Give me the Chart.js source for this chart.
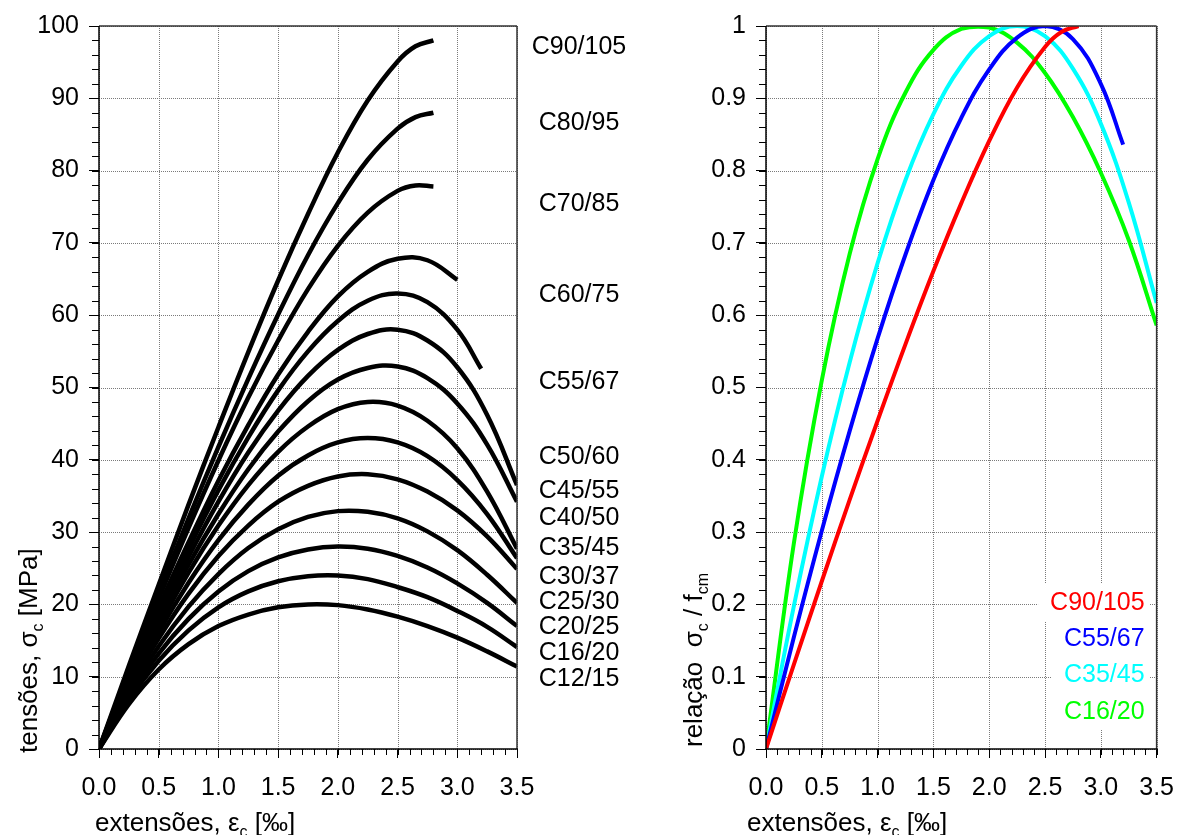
<!DOCTYPE html>
<html>
<head>
<meta charset="utf-8">
<script src="https://cdn.jsdelivr.net/npm/chart.js"></script>
<style>
  html, body { margin: 0; padding: 0; background: #fff; }
  canvas { position: absolute; top: 0; }
  #left { left: 0; }
  #right { left: 640px; }
</style>
</head>
<body>
<canvas id="left" width="640" height="835"></canvas>
<canvas id="right" width="549" height="835"></canvas>
<script>
// strains [per mille]
const strainFull = [0, 0.25, 0.5, 0.75, 1.0, 1.25, 1.5, 1.75, 2.0, 2.25, 2.5, 2.75, 3.0, 3.25, 3.5];
const strainTo32 = [0, 0.25, 0.5, 0.75, 1.0, 1.25, 1.5, 1.75, 2.0, 2.25, 2.5, 2.75, 3.0, 3.2];
const strainTo30 = [0, 0.25, 0.5, 0.75, 1.0, 1.25, 1.5, 1.75, 2.0, 2.25, 2.5, 2.75, 3.0];
const strainTo28 = [0, 0.25, 0.5, 0.75, 1.0, 1.25, 1.5, 1.75, 2.0, 2.25, 2.5, 2.65, 2.8];

// left panel: stresses [MPa]
const classNames = ["C12/15", "C16/20", "C20/25", "C25/30", "C30/37", "C35/45", "C40/50",
  "C45/55", "C50/60", "C55/67", "C60/75", "C70/85", "C80/95", "C90/105"];
const sC12 = [0, 6.2, 11.0, 14.5, 17.0, 18.6, 19.6, 20.0, 19.9, 19.3, 18.3, 17.0, 15.4, 13.5, 11.4];
const sC16 = [0, 6.8, 12.2, 16.4, 19.6, 21.8, 23.2, 23.9, 24.0, 23.5, 22.4, 21.0, 19.1, 16.9, 14.1];
const sC20 = [0, 7.2, 13.2, 18.0, 21.8, 24.6, 26.5, 27.6, 28.0, 27.7, 26.7, 25.1, 22.9, 20.2, 17.0];
const sC25 = [0, 7.6, 14.2, 19.7, 24.2, 27.8, 30.4, 32.1, 32.9, 32.8, 31.9, 30.1, 27.5, 24.1, 20.2];
const sC30 = [0, 8.2, 15.3, 21.5, 26.7, 30.9, 34.2, 36.4, 37.7, 38.0, 37.3, 35.6, 33.0, 29.4, 24.9];
const sC35 = [0, 8.5, 16.2, 23.0, 28.9, 33.8, 37.8, 40.6, 42.4, 43.0, 42.4, 40.5, 37.2, 32.5, 26.4];
const sC40 = [0, 8.9, 17.0, 24.4, 30.9, 36.5, 41.1, 44.6, 47.0, 48.0, 47.5, 45.4, 41.6, 35.6, 27.7];
const sC45 = [0, 9.2, 17.7, 25.5, 32.5, 38.7, 43.9, 48.1, 51.1, 52.7, 52.9, 51.3, 47.8, 42.1, 34.2];
const sC50 = [0, 9.5, 18.4, 26.6, 34.2, 41.0, 46.8, 51.6, 55.2, 57.4, 58.0, 56.5, 52.8, 46.2, 36.5];
const sC55 = [0, 9.8, 19.0, 27.7, 35.8, 43.1, 49.6, 55.0, 59.2, 62.0, 63.0, 61.8, 58.0, 52.6];
const sC60 = [0, 10.0, 19.6, 28.6, 37.1, 44.8, 51.8, 57.7, 62.6, 66.0, 67.8, 67.6, 64.9];
const sC70 = [0, 10.6, 20.8, 30.6, 39.9, 48.6, 56.5, 63.6, 69.6, 74.2, 77.2, 77.95, 77.8];
const sC80 = [0, 10.9, 21.5, 31.9, 41.8, 51.2, 60.1, 68.3, 75.5, 81.5, 85.8, 87.4, 88.0];
const sC90 = [0, 11.5, 22.7, 33.8, 44.5, 54.9, 64.8, 74.0, 82.5, 89.7, 95.1, 97.2, 98.0];
const leftSeries = [
  [strainFull, sC12], [strainFull, sC16], [strainFull, sC20], [strainFull, sC25],
  [strainFull, sC30], [strainFull, sC35], [strainFull, sC40], [strainFull, sC45],
  [strainFull, sC50], [strainTo32, sC55], [strainTo30, sC60], [strainTo28, sC70],
  [strainTo28, sC80], [strainTo28, sC90]
];

// right panel: sigma_c / f_cm
const ratioNames = ["C90/105", "C55/67", "C35/45", "C16/20"];
const rC90 = [0, 0.117, 0.232, 0.345, 0.454, 0.560, 0.661, 0.755, 0.841, 0.915, 0.971, 0.992, 1.0];
const rC55 = [0, 0.155, 0.302, 0.440, 0.568, 0.684, 0.787, 0.873, 0.940, 0.984, 1.0, 0.982, 0.920, 0.836];
const rC35 = [0, 0.198, 0.377, 0.535, 0.672, 0.787, 0.878, 0.945, 0.986, 1.0, 0.986, 0.941, 0.865, 0.756, 0.617];
const rC16 = [0, 0.285, 0.510, 0.685, 0.816, 0.908, 0.967, 0.996, 0.998, 0.977, 0.935, 0.874, 0.797, 0.704, 0.586];
const ratioColors = ["#ff0000", "#0000ff", "#00ffff", "#00ff00"];

const FONT = '"Liberation Sans", Arial, sans-serif';

function pts(xs, ys) { return ys.map((v, i) => ({ x: xs[i], y: v })); }

function richText(ctx, parts, x, y, size) {
  let cx = x;
  parts.forEach(([txt, sub]) => {
    const fs = sub ? Math.round(size * 0.6) : size;
    ctx.font = fs + 'px ' + FONT;
    ctx.fillText(txt, cx, y + (sub ? size * 0.22 : 0));
    cx += ctx.measureText(txt).width;
  });
}

function line(ctx, x1, y1, x2, y2) {
  ctx.beginPath(); ctx.moveTo(x1, y1); ctx.lineTo(x2, y2); ctx.stroke();
}

// grid, frame, minor ticks, axis titles
function framePlugin(o) {
  return {
    id: 'frame',
    beforeDatasetsDraw(chart) {
      const { ctx, chartArea: a, scales: { x, y } } = chart;
      ctx.save();
      ctx.strokeStyle = '#7a7a7a';
      ctx.lineWidth = 1;
      ctx.setLineDash([1, 1]);
      x.ticks.forEach(t => {
        const px = Math.round(x.getPixelForValue(t.value)) + 0.5;
        line(ctx, px, a.top, px, a.bottom);
      });
      y.ticks.forEach(t => {
        const py = Math.round(y.getPixelForValue(t.value)) + 0.5;
        line(ctx, a.left, py, a.right, py);
      });
      ctx.restore();
    },
    afterDraw(chart) {
      const { ctx, chartArea: a, scales: { x, y } } = chart;
      ctx.save();
      ctx.strokeStyle = '#000';
      ctx.lineWidth = 1;
      // minor ticks
      for (let v = 0; v <= x.max + 1e-9; v += o.xMinor) {
        const px = Math.round(x.getPixelForValue(v)) + 0.5;
        line(ctx, px, a.bottom, px, a.bottom + 6);
      }
      for (let v = 0; v <= y.max + 1e-9; v += o.yMinor) {
        const py = Math.round(y.getPixelForValue(v)) + 0.5;
        line(ctx, a.left - 7, py, a.left, py);
      }
      // frame
      ctx.lineWidth = 1.5;
      ctx.strokeStyle = '#333';
      line(ctx, a.left, a.top, a.right, a.top);
      line(ctx, a.right, a.top, a.right, a.bottom);
      ctx.strokeStyle = '#000';
      line(ctx, a.left, a.top, a.left, a.bottom + 0.75);
      line(ctx, a.left - 0.75, a.bottom, a.right + 0.75, a.bottom);
      // axis titles
      ctx.fillStyle = '#000';
      ctx.textAlign = 'left';
      ctx.textBaseline = 'alphabetic';
      richText(ctx, [['extensões, ε'], ['c', true], [' [‰]']], o.xTitleX, 831, 26);
      ctx.save();
      ctx.translate(o.yTitleX, o.yTitleY);
      ctx.rotate(-Math.PI / 2);
      richText(ctx, o.yTitle, 0, 0, 26);
      ctx.restore();
      ctx.restore();
    }
  };
}

// left panel class labels (placed beside the plot)
const labelY = [9.7, 13.3, 16.9, 20.3, 23.8, 27.8, 32.0, 35.7, 40.4, 50.8, 62.8, 75.4, 86.6, 97.1];
const classLabels = {
  id: 'classLabels',
  afterDraw(chart) {
    const { ctx, chartArea: a, scales: { y } } = chart;
    ctx.save();
    ctx.fillStyle = '#000';
    ctx.font = '25px ' + FONT;
    ctx.textAlign = 'center';
    ctx.textBaseline = 'middle';
    classNames.forEach((n, i) => ctx.fillText(n, a.right + 62, y.getPixelForValue(labelY[i])));
    ctx.restore();
  }
};

// right panel coloured legend with white background
const ratioLegend = {
  id: 'ratioLegend',
  afterDatasetsDraw(chart) {
    const { ctx, chartArea: a } = chart;
    ctx.save();
    ctx.font = '25px ' + FONT;
    ctx.textAlign = 'right';
    ctx.textBaseline = 'middle';
    const rx = a.right - 12;
    ratioNames.forEach((n, i) => {
      const cy = 603 + i * 36.3;
      const w = ctx.measureText(n).width;
      ctx.fillStyle = '#fff';
      ctx.fillRect(rx - w - 12, cy - 20, w + 17, 38);
    });
    ratioNames.forEach((n, i) => {
      ctx.fillStyle = ratioColors[i];
      ctx.fillText(n, rx, 603 + i * 36.3);
    });
    ctx.restore();
  }
};

function xScale() {
  return {
    type: 'linear', min: 0, max: 3.5,
    border: { display: false },
    grid: { drawOnChartArea: false, drawTicks: true, tickLength: 9, tickColor: '#000', tickWidth: 1 },
    ticks: { stepSize: 0.5, padding: 15, color: '#000', font: { family: FONT, size: 25 },
      callback: v => v.toFixed(1), maxRotation: 0 },
    afterFit: s => { s.height = 86; }
  };
}

function yScale(max, step, width, fmt) {
  return {
    type: 'linear', min: 0, max: max,
    border: { display: false },
    grid: { drawOnChartArea: false, drawTicks: true, tickLength: 10, tickColor: '#000', tickWidth: 1 },
    ticks: { stepSize: step, padding: 10, color: '#000', font: { family: FONT, size: 25 }, callback: fmt },
    afterFit: s => { s.width = width; }
  };
}

const common = {
  responsive: false,
  animation: false,
  plugins: { legend: { display: false }, tooltip: { enabled: false } },
  elements: { point: { radius: 0 }, line: { tension: 0.4 } }
};

new Chart(document.getElementById('left'), {
  type: 'scatter',
  data: {
    datasets: leftSeries.map(([xs, ys], i) => ({
      label: classNames[i], data: pts(xs, ys), showLine: true,
      borderColor: '#000', borderWidth: 4.5, pointRadius: 0, tension: 0.4
    }))
  },
  options: Object.assign({}, common, {
    layout: { padding: { top: 26, right: 123, left: 0, bottom: 0 } },
    scales: {
      x: xScale(),
      y: yScale(100, 10, 99, v => String(v))
    }
  }),
  plugins: [framePlugin({ xMinor: 0.1, yMinor: 2, xTitleX: 95, yTitleX: 37, yTitleY: 753,
    yTitle: [['tensões, σ'], ['c', true], [' [MPa]']] }), classLabels]
});

new Chart(document.getElementById('right'), {
  type: 'scatter',
  data: {
    datasets: [[strainTo28, rC90], [strainTo32, rC55], [strainFull, rC35], [strainFull, rC16]].map(([xs, ys], i) => ({
      label: ratioNames[i], data: pts(xs, ys), showLine: true,
      borderColor: ratioColors[i], borderWidth: 4, pointRadius: 0, tension: 0.4
    }))
  },
  options: Object.assign({}, common, {
    layout: { padding: { top: 26, right: 20, left: 0, bottom: 0 } },
    scales: {
      x: xScale(),
      y: yScale(1, 0.1, 126, v => (v === 0 ? '0' : Math.abs(v - 1) < 1e-9 ? '1' : v.toFixed(1)))
    }
  }),
  plugins: [framePlugin({ xMinor: 0.1, yMinor: 0.02, xTitleX: 107, yTitleX: 62, yTitleY: 747,
    yTitle: [['relação  σ'], ['c', true], [' / f'], ['cm', true]] }), ratioLegend]
});
</script>
</body>
</html>
